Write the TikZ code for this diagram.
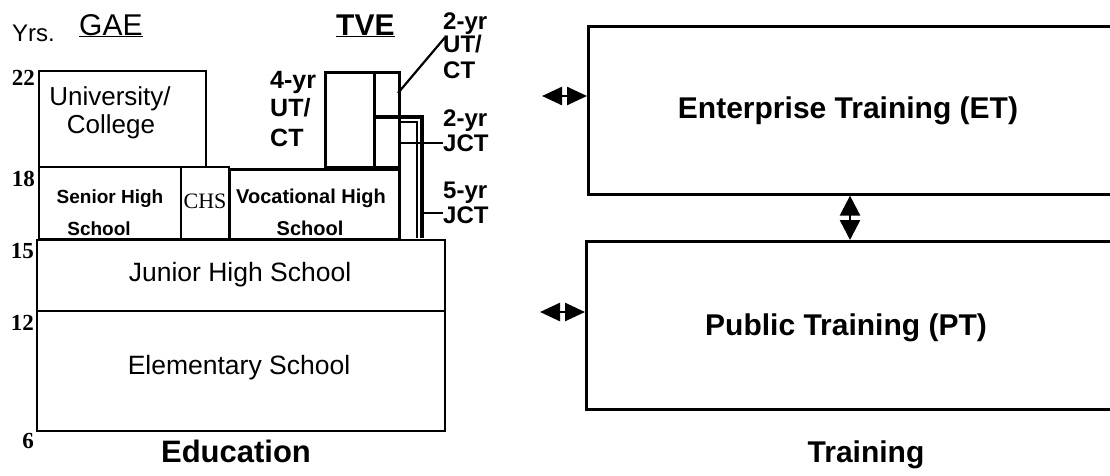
\documentclass[tikz,border=0pt]{standalone}
\usepackage{fontspec}
\setmainfont{Liberation Sans}
\newfontfamily\seriff{Liberation Serif}
\usetikzlibrary{arrows.meta}
\begin{document}
\begin{tikzpicture}[x=1pt,y=-1pt,
  thinbox/.style={draw, line width=2pt, inner sep=0pt, anchor=north west},
  thickbox/.style={draw, line width=3.4pt, inner sep=0pt, anchor=north west},
  trainbox/.style={draw, line width=2.6pt, inner sep=0pt, anchor=north west},
  lbl/.style={inner sep=0pt, anchor=base},
  lblw/.style={inner sep=0pt, anchor=base west},
  yr/.style={inner sep=0pt, anchor=base east, font=\seriff\bfseries\fontsize{23}{23}\selectfont},
  thickline/.style={line width=3.4pt},
  thinline/.style={line width=1.5pt},
  leader/.style={line width=2.2pt},
  dblarrow/.style={line width=2.5pt, {Triangle[length=20pt,width=18pt]}-{Triangle[length=20pt,width=18pt]}},
]
\useasboundingbox (0,0) rectangle (1110,475);
\clip (0,0) rectangle (1110,475);

% headings
\node[lblw, font=\fontsize{24}{24}\selectfont] (yrs) at (12,41) {Yrs.};
\node[lblw, font=\fontsize{30}{30}\selectfont] (gae) at (79,35) {\underline{GAE}};
\node[lblw, font=\bfseries\fontsize{30}{30}\selectfont] (tve) at (336,35) {\underline{TVE}};

% year labels
\node[yr] (y22) at (35,85) {22};
\node[yr] (y18) at (35,186) {18};
\node[yr] (y15) at (34,258) {15};
\node[yr] (y12) at (34,330) {12};
\node[yr] (y6) at (34,448) {6};

% GAE boxes
\node[thinbox, minimum width=167, minimum height=96] (uni) at (38,70) {};
\node[thinbox, minimum width=142, minimum height=72] (senior) at (38,166) {};
\node[thinbox, minimum width=48, minimum height=72] (chs) at (180,166) {};
\node[thinbox, minimum width=408, minimum height=71] (junior) at (36,239) {};
\node[thinbox, minimum width=408, minimum height=120] (elem) at (36,310) {};

% TVE boxes
\node[thickbox, minimum width=170, minimum height=70] (voc) at (228,168) {};
\node[thickbox, minimum width=49, minimum height=95] (four) at (324,71) {};
\node[thickbox, minimum width=25, minimum height=95] (twout) at (373,71) {};
\coordinate (ja) at (373,117);
\coordinate (jb) at (422,117);
\coordinate (jc) at (422,238);
\draw[thickline] (ja) -- (jb) -- (jc);
\coordinate (ka) at (398,122);
\coordinate (kb) at (417,122);
\coordinate (kc) at (417,238);
\draw[thinline] (ka) -- (kb) -- (kc);

% texts in GAE
\node[lbl, font=\fontsize{26}{26}\selectfont] (uni1) at (110,105) {University/};
\node[lbl, font=\fontsize{26}{26}\selectfont] (uni2) at (111,133) {College};
\node[lbl, font=\bfseries\fontsize{19}{19}\selectfont] (sen1) at (110,203) {Senior High};
\node[lbl, font=\bfseries\fontsize{19}{19}\selectfont] (sen2) at (99,235) {School};
\node[lbl, font=\seriff\fontsize{22}{22}\selectfont] (chst) at (205,208) {CHS};
\node[lbl, font=\bfseries\fontsize{20}{20}\selectfont] (voc1) at (311,203) {Vocational High};
\node[lbl, font=\bfseries\fontsize{20}{20}\selectfont] (voc2) at (310,235) {School};
\node[lbl, font=\fontsize{26.5}{26.5}\selectfont] (junt) at (240,281) {Junior High School};
\node[lbl, font=\fontsize{26.5}{26.5}\selectfont] (elet) at (239,374) {Elementary School};

% TVE labels
\node[lblw, font=\bfseries\fontsize{25}{25}\selectfont] (fy1) at (270,88) {4-yr};
\node[lblw, font=\bfseries\fontsize{25}{25}\selectfont] (fy2) at (270,116) {UT/};
\node[lblw, font=\bfseries\fontsize{25}{25}\selectfont] (fy3) at (270,146) {CT};

\node[lblw, font=\bfseries\fontsize{24}{24}\selectfont] (tu1) at (443,29) {2-yr};
\node[lblw, font=\bfseries\fontsize{24}{24}\selectfont] (tu2) at (443,52) {UT/};
\node[lblw, font=\bfseries\fontsize{24}{24}\selectfont] (tu3) at (443,78) {CT};
\node[lblw, font=\bfseries\fontsize{24}{24}\selectfont] (tj1) at (443,126) {2-yr};
\node[lblw, font=\bfseries\fontsize{24}{24}\selectfont] (tj2) at (443,151) {JCT};
\node[lblw, font=\bfseries\fontsize{24}{24}\selectfont] (fj1) at (443,198) {5-yr};
\node[lblw, font=\bfseries\fontsize{24}{24}\selectfont] (fj2) at (443,223) {JCT};

% leader lines
\coordinate (l1) at (398,93);
\draw[leader] (l1) -- ([xshift=2pt,yshift=-3pt]tu2.north west);
\coordinate (l2) at (398,143);
\draw[leader] (l2) -- (l2 -| tj2.west);
\coordinate (l3) at (422,213);
\draw[leader] (l3) -- (l3 -| fj2.west);

\node[lbl, font=\bfseries\fontsize{31}{31}\selectfont] (edu) at (236,462) {Education};

% Training side
\node[trainbox, minimum width=560, minimum height=168] (et) at (587,25) {};
\node[trainbox, minimum width=560, minimum height=168] (pt) at (585,240) {};
\node[lbl, font=\bfseries\fontsize{30}{30}\selectfont] (ett) at (848,118) {Enterprise Training (ET)};
\node[lbl, font=\bfseries\fontsize{30}{30}\selectfont] (ptt) at (846,335) {Public Training (PT)};
\node[lbl, font=\bfseries\fontsize{30}{30}\selectfont] (trt) at (866,462) {Training};

\coordinate (ea) at (542,96);
\draw[dblarrow] (ea) -- (ea -| et.west);
\coordinate (pa) at (540,312);
\draw[dblarrow] (pa) -- (pa -| pt.west);
\coordinate (va) at (850,216);
\draw[dblarrow, {Triangle[length=20pt,width=20pt]}-{Triangle[length=20pt,width=20pt]}] (va |- et.south) -- (va |- pt.north);
\end{tikzpicture}
\end{document}
